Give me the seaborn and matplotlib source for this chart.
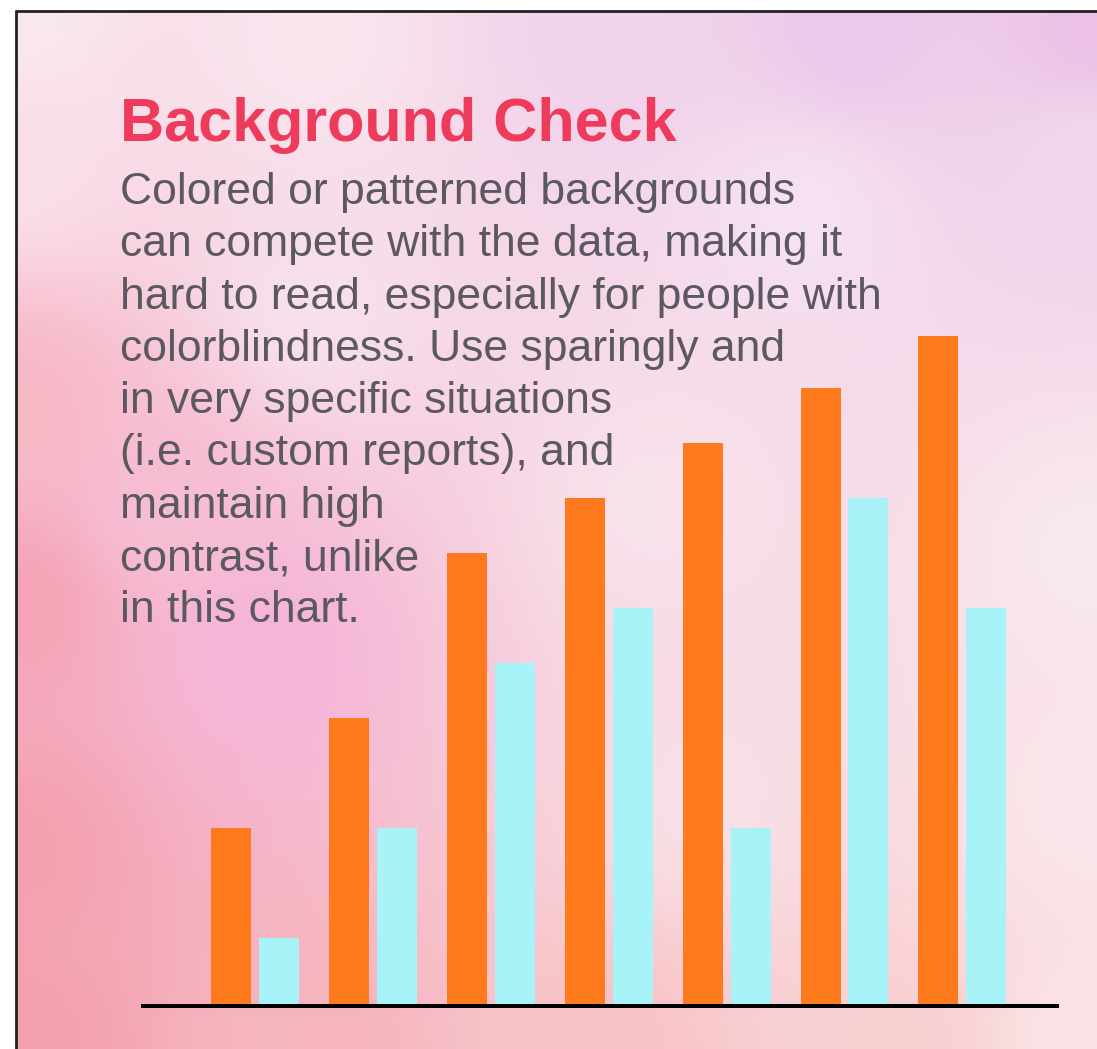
import numpy as np
import pandas as pd
import matplotlib
matplotlib.use("Agg")
import matplotlib.pyplot as plt
from matplotlib.colors import to_rgb
from matplotlib.lines import Line2D
import seaborn as sns

# ---------------- data ----------------
groups = ["1", "2", "3", "4", "5", "6", "7"]
series_names = ["Series A", "Series B"]
series_a = [3.2, 5.2, 8.2, 9.2, 10.2, 11.2, 12.15]
series_b = [1.2, 3.2, 6.2, 7.2, 3.2, 9.2, 7.2]

title_text = "Background Check"
body_lines = [
    "Colored or patterned backgrounds",
    "can compete with the data, making it",
    "hard to read, especially for people with",
    "colorblindness. Use sparingly and",
    "in very specific situations",
    "(i.e. custom reports), and",
    "maintain high",
    "contrast, unlike",
    "in this chart.",
]

orange = "#FF7A1C"
cyan = "#A8F3F8"

df = pd.DataFrame({
    "group": groups * 2,
    "series": [series_names[0]] * len(groups) + [series_names[1]] * len(groups),
    "value": series_a + series_b,
})

# ---------------- figure ----------------
W, H = 1097, 1049
sns.set_theme(style="white")
plt.rcParams["font.family"] = ["Liberation Sans", "DejaVu Sans"]
fig = plt.figure(figsize=(W / 100, H / 100), dpi=100)
fig.patch.set_facecolor("white")

# background gradient (decorative)
ctrl = [
    (0, 0, "#F9E8F0"), (300, 30, "#F9E6EF"), (600, 20, "#F1D3EC"),
    (850, 20, "#ECC8EA"), (1097, 20, "#EBC2E6"), (1097, 150, "#F2D8EE"),
    (800, 200, "#F6E2F0"), (300, 300, "#F8E0EC"),
    (0, 150, "#FADFEA"), (0, 400, "#F8B8C6"), (0, 600, "#F5A3B6"),
    (0, 850, "#F4A0B0"), (0, 1049, "#F4A0AC"),
    (150, 500, "#F7BDD3"), (250, 650, "#F5B5DA"),
    (300, 1049, "#F6B5BE"), (600, 1049, "#F8C4C6"), (900, 1049, "#F9D0D2"),
    (1097, 1049, "#FBE4E6"), (1097, 550, "#F9E8EE"), (1097, 800, "#FAE6EA"),
    (650, 500, "#F8E2EC"), (700, 800, "#F9E0E6"),
]
gx, gy = np.meshgrid(np.linspace(0, W, 220), np.linspace(0, H, 210))
num = np.zeros(gx.shape + (3,))
den = np.zeros(gx.shape)
for cx, cy, col in ctrl:
    d2 = (gx - cx) ** 2 + (gy - cy) ** 2
    w = 1.0 / (d2 + 400.0) ** 1.3
    num += w[..., None] * np.array(to_rgb(col))
    den += w
img = num / den[..., None]

bg = fig.add_axes([16 / W, 0, 1 - 16 / W, 1 - 10 / H])
bg.imshow(img, extent=[16, W, H, 10], aspect="auto", interpolation="bilinear")
bg.set_axis_off()

# border lines
fig.add_artist(Line2D([16 / W, 1], [1 - 10.5 / H, 1 - 10.5 / H], color="#222222", lw=2.0,
                      transform=fig.transFigure))
fig.add_artist(Line2D([16 / W, 16 / W], [0, 1 - 10.5 / H], color="#222222", lw=2.0,
                      transform=fig.transFigure))

# bar chart axes
ax_left, ax_right = 143, 1057
ax_bottom_px, ax_top_px = 1004, 300
ax = fig.add_axes([ax_left / W, (H - ax_bottom_px) / H,
                   (ax_right - ax_left) / W, (ax_bottom_px - ax_top_px) / H])
ax.patch.set_alpha(0)
sns.barplot(data=df, x="group", y="value", hue="series", hue_order=series_names,
            palette={series_names[0]: orange, series_names[1]: cyan},
            width=0.8136, gap=0.1667, errorbar=None, legend=False,
            linewidth=0, saturation=1, ax=ax)
unit = 55.0
ax.set_xlim((ax_left - 255) / 117.9, (ax_right - 255) / 117.9)
ax.set_ylim(0, (ax_bottom_px - ax_top_px) / unit)
ax.set_xlabel("")
ax.set_ylabel("")
ax.set_xticks([])
ax.set_yticks([])
for s in ["top", "right", "left"]:
    ax.spines[s].set_visible(False)
ax.spines["bottom"].set_color("black")
ax.spines["bottom"].set_linewidth(2.9)
ax.spines["bottom"].set_position(("data", -2.0 / unit))
ax.spines["bottom"].set_zorder(0.5)

# texts
fig.text(120 / W, 1 - 141 / H, title_text, fontsize=44, fontweight="bold",
         color="#EE3B5B", va="baseline", ha="left")
base0 = 204
step = 52.3
for i, line in enumerate(body_lines):
    fig.text(120 / W, 1 - (base0 + i * step) / H, line, fontsize=32,
             color="#5C5862", va="baseline", ha="left")

fig.savefig("out.png", dpi=100)
